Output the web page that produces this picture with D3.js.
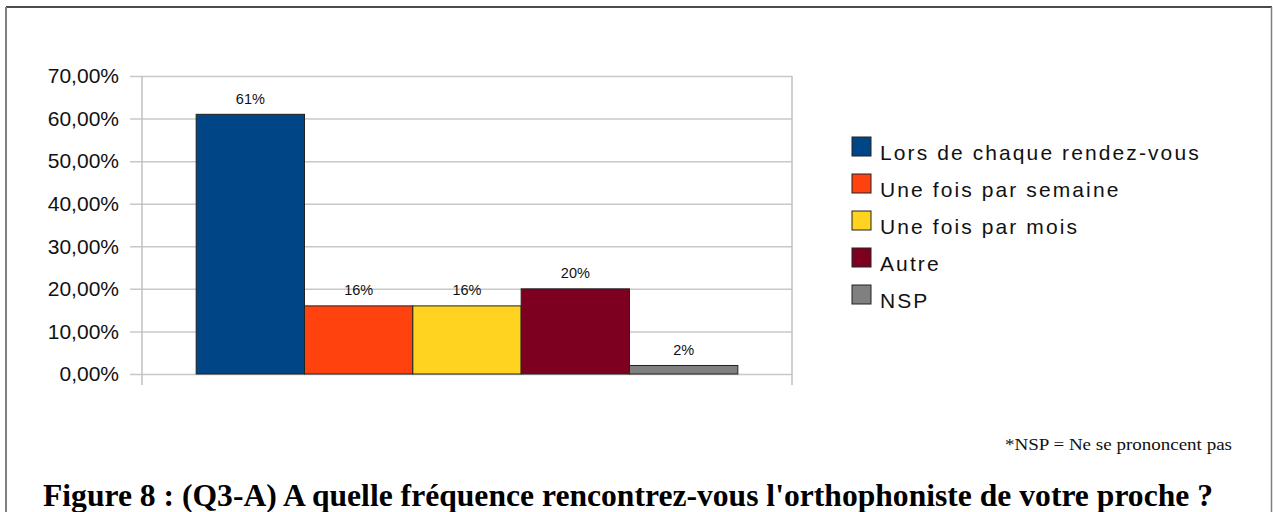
<!DOCTYPE html>
<html>
<head>
<meta charset="utf-8">
<script src="https://cdn.jsdelivr.net/npm/d3@7"></script>
<style>
  body { margin: 0; background: #fff; }
  svg { display: block; }
</style>
</head>
<body>
<div id="container"></div>
<script>
// data
const categories = ["Lors de chaque rendez-vous", "Une fois par semaine", "Une fois par mois", "Autre", "NSP"];
const values = [61, 16, 16, 20, 2];
const valueLabels = ["61%", "16%", "16%", "20%", "2%"];
const yTicks = [0, 10, 20, 30, 40, 50, 60, 70];
const colors = ["#004586", "#ff420e", "#ffd320", "#7e0021", "#808080"];

const w = 1273;
const h = 512;

const svg = d3.select("#container")
  .append("svg")
  .attr("width", w)
  .attr("height", h);

// page frame
svg.append("line").attr("x1", 6).attr("x2", 1272).attr("y1", 7).attr("y2", 7)
  .attr("stroke", "#111").attr("stroke-width", 1.5);
svg.append("line").attr("x1", 6).attr("x2", 6).attr("y1", 7).attr("y2", h)
  .attr("stroke", "#808080").attr("stroke-width", 2);
svg.append("line").attr("x1", 1271.5).attr("x2", 1271.5).attr("y1", 7).attr("y2", h)
  .attr("stroke", "#808080").attr("stroke-width", 1.5);

const x = d3.scaleBand()
  .domain(categories)
  .range([142, 792])
  .paddingInner(0)
  .paddingOuter(0.5);

const y = d3.scaleLinear()
  .domain([0, 70])
  .range([374, 76]);

// gridlines + ticks
const yAxis = d3.axisLeft(y)
  .tickValues(yTicks)
  .tickSize(-(792 - 130))
  .tickFormat(d => d3.format(".2f")(d).replace(".", ",") + "%");

const gy = svg.append("g")
  .attr("transform", "translate(792,0)")
  .call(yAxis);
gy.select(".domain").remove();
gy.selectAll(".tick line")
  .attr("x1", 0)
  .attr("x2", -(792 - 130))
  .attr("stroke", "#c8c8c8")
  .attr("stroke-width", 1.5);
gy.selectAll(".tick text")
  .attr("x", -(792 - 119))
  .attr("text-anchor", "end")
  .attr("fill", "#111")
  .style("font-family", "'Liberation Sans', Arial, sans-serif")
  .style("font-size", "21px");

// axis lines
svg.append("line").attr("x1", 142).attr("x2", 142).attr("y1", y(70)).attr("y2", 385)
  .attr("stroke", "#c0c0c0").attr("stroke-width", 1.5);
svg.append("line").attr("x1", 792).attr("x2", 792).attr("y1", y(70)).attr("y2", 385)
  .attr("stroke", "#c0c0c0").attr("stroke-width", 1.5);

// bars
svg.selectAll("rect.bar")
  .data(values)
  .enter()
  .append("rect")
  .attr("class", "bar")
  .attr("x", (d, i) => x(categories[i]))
  .attr("y", d => y(d))
  .attr("width", x.bandwidth())
  .attr("height", d => y(0) - y(d))
  .attr("fill", (d, i) => colors[i])
  .attr("stroke", "#222")
  .attr("stroke-width", 1);

svg.selectAll("text.val")
  .data(values)
  .enter()
  .append("text")
  .attr("class", "val")
  .attr("x", (d, i) => x(categories[i]) + x.bandwidth() / 2)
  .attr("y", d => y(d) - 10.5)
  .attr("text-anchor", "middle")
  .attr("fill", "#111")
  .style("font-family", "'Liberation Sans', Arial, sans-serif")
  .style("font-size", "14.5px")
  .text((d, i) => valueLabels[i]);

// legend
const legend = svg.selectAll("g.leg")
  .data(categories)
  .enter()
  .append("g")
  .attr("class", "leg")
  .attr("transform", (d, i) => "translate(852," + (137 + i * 37) + ")");
legend.append("rect")
  .attr("width", 19).attr("height", 19)
  .attr("fill", (d, i) => colors[i])
  .attr("stroke", "#222").attr("stroke-width", 1);
legend.append("text")
  .attr("x", 28)
  .attr("y", 23)
  .attr("fill", "#111")
  .style("font-family", "'Liberation Sans', Arial, sans-serif")
  .style("font-size", "21px")
  .style("letter-spacing", "2.1px")
  .text(d => d);

// footnote and caption
svg.append("text")
  .attr("x", 1232)
  .attr("y", 450)
  .attr("text-anchor", "end")
  .attr("textLength", 227)
  .attr("lengthAdjust", "spacingAndGlyphs")
  .attr("fill", "#111")
  .style("font-family", "'Liberation Serif', 'Times New Roman', serif")
  .style("font-size", "17px")
  .text("*NSP = Ne se prononcent pas");

svg.append("text")
  .attr("x", 43)
  .attr("y", 506)
  .attr("textLength", 1170)
  .attr("lengthAdjust", "spacingAndGlyphs")
  .attr("fill", "#000")
  .style("font-family", "'Liberation Serif', 'Times New Roman', serif")
  .style("font-weight", "bold")
  .style("font-size", "31px")
  .text("Figure 8 : (Q3-A) A quelle fréquence rencontrez-vous l'orthophoniste de votre proche ?");
</script>
</body>
</html>
